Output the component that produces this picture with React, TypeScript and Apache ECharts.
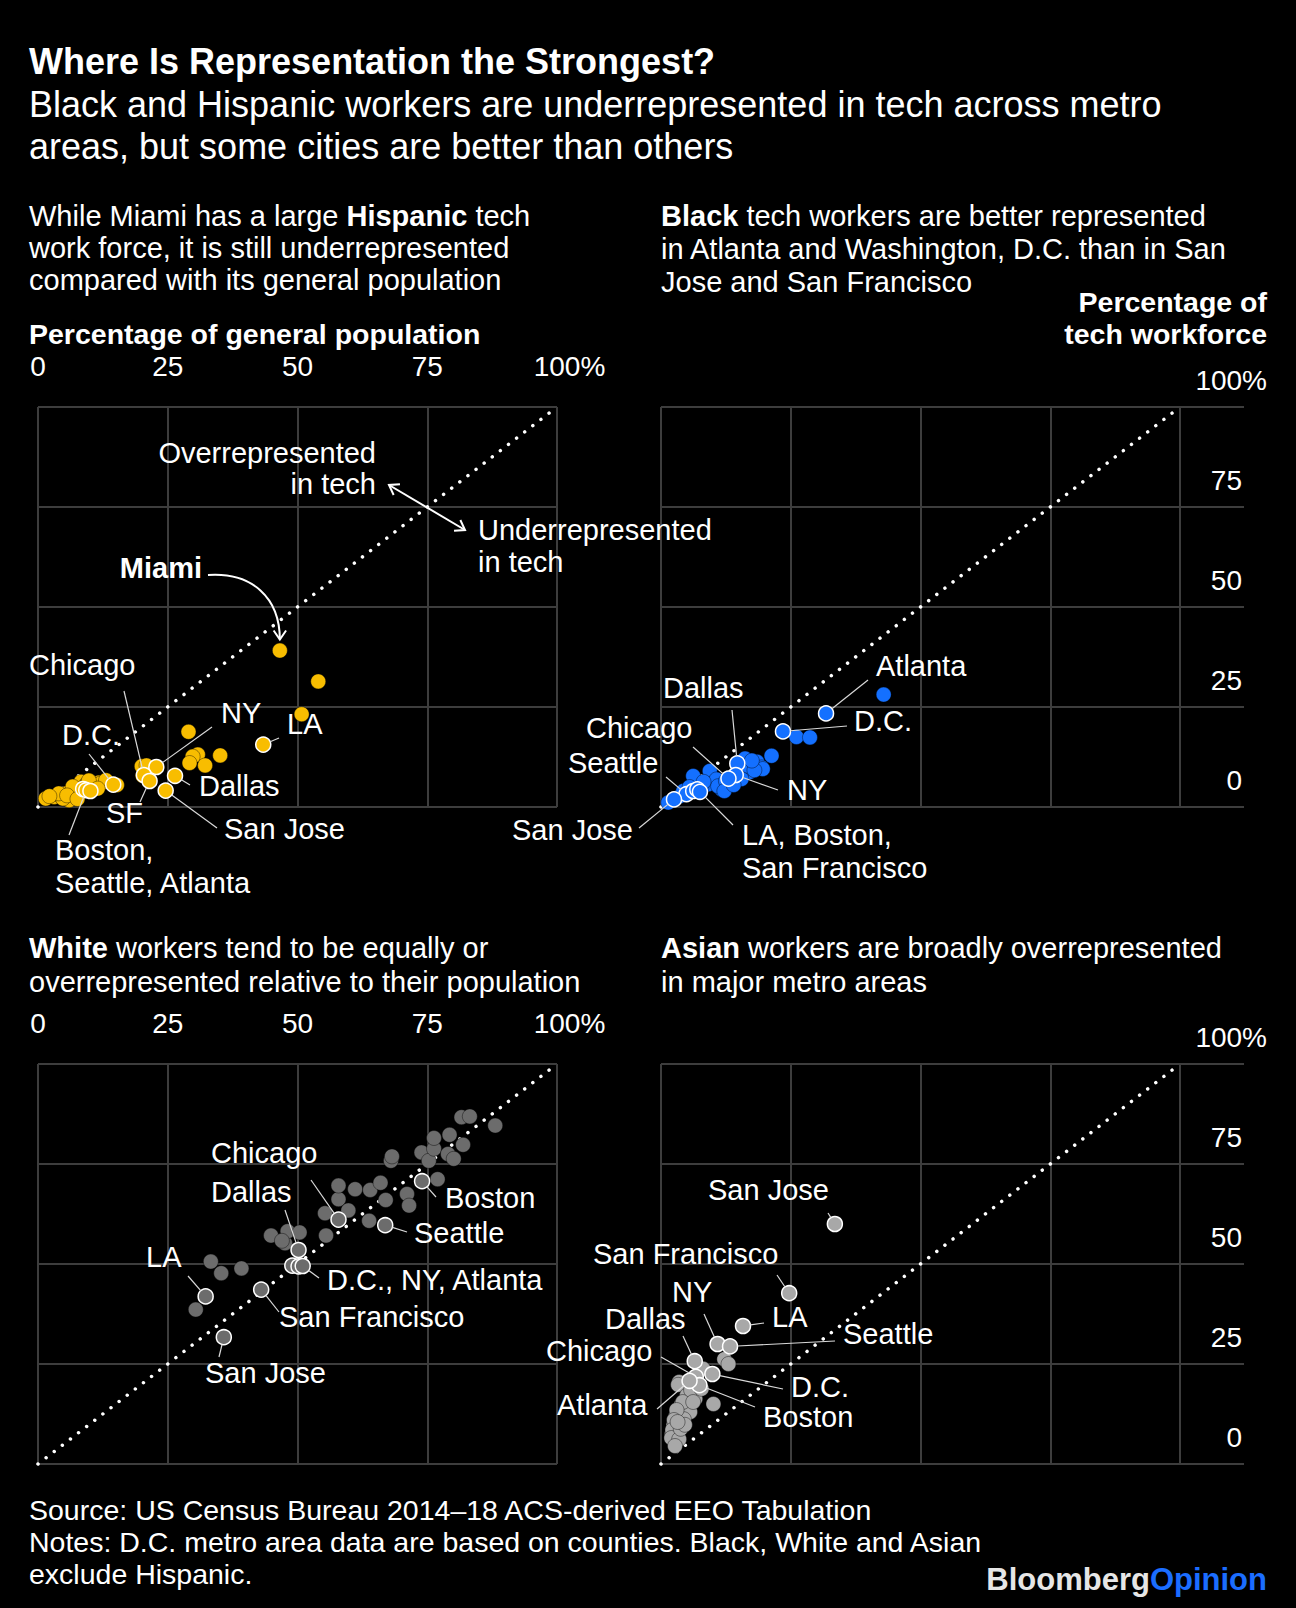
import React, { useEffect, useRef } from "react";
import * as echarts from "echarts";

const FONT = '"Liberation Sans", Arial, Helvetica, sans-serif';
const W = 1296;
const H = 1608;

const COLOR_HISPANIC = "#f8bd00";
const COLOR_BLACK = "#1470ff";
const COLOR_WHITE = "#6c6c6c";
const COLOR_ASIAN = "#a8a8a8";
const GRID_COLOR = "#3d3d3d";

// [city, % of general population, % of tech workforce]
const hispanicCities: [string, number, number][] = [
  ["LA", 43.4, 15.6],
  ["NY", 22.8, 10.0],
  ["Chicago", 20.4, 8.0],
  ["SF", 21.5, 6.5],
  ["Dallas", 26.4, 7.8],
  ["San Jose", 24.6, 4.1],
  ["D.C.", 14.5, 5.6],
  ["Atlanta", 8.7, 4.5],
  ["Boston", 9.3, 4.2],
  ["Seattle", 10.1, 4.0],
];
const hispanicMiami: [number, number] = [46.6, 39.1];
const hispanicOther: [number, number][] = [
  [54.0, 31.4], [50.8, 23.2], [29.0, 18.8], [30.8, 13.1], [29.8, 12.6], [29.2, 11.0],
  [32.2, 10.4], [35.1, 12.9], [20.0, 10.2], [20.2, 7.8], [20.9, 10.4],
  [11.8, 6.1], [11.3, 5.5], [12.8, 6.3], [10.5, 5.1], [8.3, 6.3], [8.9, 5.1], [15.2, 5.5],
  [1.5, 2.1], [3.1, 2.5], [4.1, 3.0], [5.4, 3.4], [6.0, 1.7], [7.0, 3.0], [4.8, 2.1],
  [7.3, 4.2], [7.9, 3.4], [6.7, 5.1], [9.5, 5.9], [10.9, 5.1], [12.1, 5.9], [13.1, 6.7],
  [4.0, 3.4], [2.2, 2.7], [5.6, 2.9], [7.6, 2.0], [9.8, 6.6], [11.5, 4.6],
];

const blackCities: [string, number, number][] = [
  ["Atlanta", 31.8, 23.4],
  ["D.C.", 23.5, 18.9],
  ["Dallas", 14.7, 10.9],
  ["NY", 14.4, 8.0],
  ["Chicago", 13.0, 7.1],
  ["Seattle", 4.9, 3.2],
  ["LA", 6.2, 4.0],
  ["Boston", 7.0, 4.4],
  ["San Francisco", 7.5, 3.8],
  ["San Jose", 2.5, 1.9],
];
const blackOther: [number, number][] = [
  [42.9, 28.1], [26.1, 17.5], [28.7, 17.4], [21.3, 12.8], [18.5, 11.3], [19.4, 9.9],
  [19.6, 9.5], [16.2, 12.1], [17.1, 8.75], [15.5, 8.6], [9.4, 9.0], [6.2, 7.75],
  [9.1, 5.7], [11.7, 4.4], [13.3, 6.1], [15.5, 7.0], [10.7, 6.9], [7.8, 4.85],
  [3.7, 2.75], [1.4, 1.1], [4.3, 4.0], [11.0, 5.2], [12.5, 6.5], [8.2, 6.3],
  [16.8, 10.3], [18.0, 9.2], [12.2, 4.0], [5.5, 5.0], [14.0, 5.5], [17.5, 11.6],
];

const whiteCities: [string, number, number][] = [
  ["San Jose", 35.8, 31.7],
  ["San Francisco", 43.0, 43.6],
  ["LA", 32.3, 41.9],
  ["D.C.", 49.0, 49.6],
  ["NY", 50.2, 49.4],
  ["Atlanta", 51.0, 49.5],
  ["Dallas", 50.2, 53.5],
  ["Chicago", 57.9, 61.1],
  ["Seattle", 66.9, 59.7],
  ["Boston", 74.0, 70.7],
];
const whiteOther: [number, number][] = [
  [30.4, 38.6], [33.3, 50.6], [35.3, 47.7], [39.2, 48.9], [47.6, 55.2], [48.1, 58.2],
  [50.4, 57.9], [44.9, 57.1], [55.5, 57.1], [55.3, 62.7], [57.9, 66.2], [57.9, 69.6],
  [59.8, 63.4], [61.1, 68.7], [64.0, 68.5], [66.0, 70.3], [67.0, 66.0], [63.8, 60.8],
  [71.1, 67.5], [71.5, 64.6], [77.0, 71.2], [68.0, 75.8], [68.2, 76.9], [73.9, 77.9],
  [75.3, 75.8], [76.3, 78.8], [79.0, 77.5], [80.1, 76.3], [81.9, 79.8], [76.3, 81.5],
  [79.3, 82.3], [81.6, 86.7], [83.2, 86.9], [88.1, 84.6], [47.0, 55.8],
];

const asianCities: [string, number, number][] = [
  ["San Jose", 33.5, 60.0],
  ["San Francisco", 24.7, 42.7],
  ["LA", 15.8, 34.5],
  ["NY", 10.9, 30.0],
  ["Seattle", 13.3, 29.4],
  ["Dallas", 6.5, 25.7],
  ["Chicago", 6.7, 21.8],
  ["D.C.", 9.9, 22.5],
  ["Boston", 7.4, 19.7],
  ["Atlanta", 5.5, 20.8],
];
const asianOther: [number, number][] = [
  [12.2, 26.2], [13.0, 25.0], [10.1, 15.0], [8.1, 23.8], [3.5, 20.5], [3.3, 19.8],
  [6.6, 16.3], [5.0, 17.1], [3.9, 14.8], [5.6, 13.0], [2.9, 12.1], [2.4, 9.6],
  [2.1, 7.5], [2.8, 5.4], [4.4, 11.2], [4.2, 15.5], [3.0, 13.5], [2.5, 11.0],
  [2.2, 8.5], [2.0, 6.5], [3.5, 6.2], [3.8, 8.8], [2.7, 4.5], [5.8, 18.5],
  [4.6, 9.8], [3.2, 10.5], [6.2, 15.5], [7.8, 18.8],
];

const AXIS_MIN = 0;
const AXIS_MAX = 100;
const AXIS_STEP = 25;
const diagonal: [number, number][] = [[0, 0], [100, 100]];

// Annotation text: [text, left x, center y]
const hispanicLabels: [string, number, number][] = [
  ["Chicago", 29, 665], ["D.C.", 62, 735], ["NY", 221, 713], ["LA", 287, 724],
  ["Dallas", 199, 786], ["SF", 106, 813], ["San Jose", 224, 829],
  ["Boston,", 55, 850], ["Seattle, Atlanta", 55, 883],
];
// Leaders: [city, label-side x, label-side y]
const hispanicLeaders: [string, number, number][] = [
  ["Chicago", 124, 691], ["D.C.", 89, 754], ["NY", 212, 727], ["LA", 279, 738],
  ["Dallas", 190, 785], ["SF", 140, 802], ["San Jose", 217, 828], ["Boston", 69, 835],
];
const blackLabels: [string, number, number][] = [
  ["Atlanta", 876, 666], ["D.C.", 854, 721], ["Dallas", 663, 688], ["Chicago", 586, 728],
  ["Seattle", 568, 763], ["NY", 787, 790], ["San Jose", 512, 830],
  ["LA, Boston,", 742, 835], ["San Francisco", 742, 868],
];
const blackLeaders: [string, number, number][] = [
  ["Atlanta", 868, 680], ["D.C.", 847, 726], ["Dallas", 732, 710], ["Chicago", 693, 747],
  ["Seattle", 666, 777], ["NY", 778, 790], ["San Jose", 639, 828], ["San Francisco", 733, 825],
];
const whiteLabels: [string, number, number][] = [
  ["Chicago", 211, 1153], ["Dallas", 211, 1192], ["Boston", 445, 1198], ["Seattle", 414, 1233],
  ["LA", 146, 1257], ["D.C., NY, Atlanta", 327, 1280], ["San Francisco", 279, 1317],
  ["San Jose", 205, 1373],
];
const whiteLeaders: [string, number, number][] = [
  ["Chicago", 311, 1180], ["Dallas", 285, 1210], ["Boston", 436, 1197], ["Seattle", 407, 1232],
  ["LA", 188, 1276], ["Atlanta", 319, 1278], ["San Francisco", 279, 1312], ["San Jose", 219, 1357],
];
const asianLabels: [string, number, number][] = [
  ["San Jose", 708, 1190], ["San Francisco", 593, 1254], ["NY", 672, 1292], ["LA", 772, 1317],
  ["Dallas", 605, 1319], ["Seattle", 843, 1334], ["Chicago", 546, 1351], ["D.C.", 791, 1387],
  ["Atlanta", 557, 1405], ["Boston", 763, 1417],
];
const asianLeaders: [string, number, number][] = [
  ["San Jose", 828, 1213], ["San Francisco", 777, 1275], ["NY", 704, 1314], ["LA", 764, 1323],
  ["Dallas", 683, 1336], ["Seattle", 835, 1341], ["Chicago", 661, 1357], ["D.C.", 783, 1389],
  ["Atlanta", 657, 1409], ["Boston", 755, 1407],
];

const panels = [
  { cities: hispanicCities, other: [...hispanicOther, hispanicMiami], color: COLOR_HISPANIC, xLabels: true, labels: hispanicLabels, leaders: hispanicLeaders },
  { cities: blackCities, other: blackOther, color: COLOR_BLACK, xLabels: false, labels: blackLabels, leaders: blackLeaders },
  { cities: whiteCities, other: whiteOther, color: COLOR_WHITE, xLabels: true, labels: whiteLabels, leaders: whiteLeaders },
  { cities: asianCities, other: asianOther, color: COLOR_ASIAN, xLabels: false, labels: asianLabels, leaders: asianLeaders },
];

const gridRects = [
  { left: 38, top: 407, width: 519, height: 400 },
  { left: 661, top: 407, width: 519, height: 400 },
  { left: 38, top: 1064, width: 519, height: 400 },
  { left: 661, top: 1064, width: 519, height: 400 },
  { left: 661, top: 407, width: 583, height: 400 },
  { left: 661, top: 1064, width: 583, height: 400 },
];

const gridStyle = { color: GRID_COLOR, width: 2 };
const SYMBOL = 15;

function buildOption(): any {
  const xAxis: any[] = [];
  const yAxis: any[] = [];
  const series: any[] = [];
  panels.forEach((p, g) => {
    xAxis.push({
      gridIndex: g, type: "value", min: AXIS_MIN, max: AXIS_MAX, interval: AXIS_STEP, position: "top",
      axisLine: { show: false },
      axisTick: { show: p.xLabels, length: 15, inside: false, lineStyle: gridStyle },
      axisLabel: p.xLabels
        ? {
            show: true, margin: 27, color: "#fff", fontSize: 28, fontFamily: FONT,
            formatter: (v: number) => (v === 100 ? "{p|100%}" : String(v)),
            rich: { p: { padding: [0, 0, 0, 25], fontSize: 28, fontFamily: FONT, color: "#fff" } },
          }
        : { show: false },
      splitLine: { show: true, lineStyle: gridStyle },
    });
    yAxis.push({
      gridIndex: g, type: "value", min: AXIS_MIN, max: AXIS_MAX, interval: AXIS_STEP,
      axisLine: { show: false }, axisTick: { show: false }, axisLabel: { show: false },
      splitLine: { show: g === 0 || g === 2, lineStyle: gridStyle },
    });
    series.push({
      type: "line", xAxisIndex: g, yAxisIndex: g, data: diagonal, symbol: "none", clip: false,
      silent: true, z: 2,
      lineStyle: { color: "#fff", width: 3.5, type: [0.001, 10.24], cap: "round" },
    });
    series.push({
      type: "scatter", xAxisIndex: g, yAxisIndex: g, silent: true, z: 3,
      data: p.other, symbolSize: SYMBOL,
      itemStyle: { color: p.color, borderColor: "rgba(0,0,0,0.4)", borderWidth: 1, opacity: 1 },
    });
    series.push({
      type: "scatter", xAxisIndex: g, yAxisIndex: g, silent: true, z: 4,
      data: p.cities.map((c) => ({ name: c[0], value: [c[1], c[2]] })), symbolSize: SYMBOL,
      itemStyle: { color: p.color, borderColor: "#fff", borderWidth: 1.5, opacity: 1 },
    });
  });
  [4, 5].forEach((g) => {
    xAxis.push({ gridIndex: g, type: "value", min: AXIS_MIN, max: AXIS_MAX, show: false });
    yAxis.push({
      gridIndex: g, type: "value", min: AXIS_MIN, max: AXIS_MAX, interval: AXIS_STEP,
      position: "right", offset: 23,
      axisLine: { show: false }, axisTick: { show: false },
      axisLabel: {
        show: true, inside: true, margin: 0, color: "#fff", fontSize: 28, fontFamily: FONT,
        verticalAlign: "bottom", lineHeight: 28, padding: [0, 0, 13, 0],
        formatter: (v: number) => (v === 100 ? "100%" : `{n|${v}}`),
        rich: { n: { padding: [0, 25, 0, 0], fontSize: 28, fontFamily: FONT, color: "#fff", lineHeight: 28 } },
      },
      splitLine: { show: true, lineStyle: gridStyle },
    });
  });
  return {
    backgroundColor: "#000",
    animation: false,
    grid: gridRects.map((r) => ({ ...r, containLabel: false })),
    xAxis,
    yAxis,
    series,
  };
}

function buildGraphics(chart: any): any[] {
  const els: any[] = [];
  const font = (size: number, bold = false) => `${bold ? "bold " : ""}${size}px ${FONT}`;
  const text = (t: string, x: number, y: number, size = 29, opts: any = {}) => {
    const style: any = {
      text: t, fill: opts.fill || "#fff", font: font(size, !!opts.bold),
      textAlign: opts.align || "left", textVerticalAlign: "middle",
    };
    if (opts.rich) style.rich = opts.rich;
    els.push({ type: "text", x, y, z: 50, silent: true, style });
  };
  const boldRich = { b: { font: font(29, true), fill: "#fff" } };

  // Header
  text("Where Is Representation the Strongest?", 29, 61, 36, { bold: true });
  text("Black and Hispanic workers are underrepresented in tech across metro", 29, 104, 36);
  text("areas, but some cities are better than others", 29, 146, 36);

  // Panel descriptions
  text("While Miami has a large {b|Hispanic} tech", 29, 216, 29, { rich: boldRich });
  text("work force, it is still underrepresented", 29, 248, 29);
  text("compared with its general population", 29, 280, 29);
  text("Percentage of general population", 29, 334, 28.5, { bold: true });

  text("{b|Black} tech workers are better represented", 661, 216, 29, { rich: boldRich });
  text("in Atlanta and Washington, D.C. than in San", 661, 249, 29);
  text("Jose and San Francisco", 661, 282, 29);
  text("Percentage of", 1267, 302, 28.5, { bold: true, align: "right" });
  text("tech workforce", 1267, 334, 28.5, { bold: true, align: "right" });

  text("{b|White} workers tend to be equally or", 29, 948, 29, { rich: boldRich });
  text("overrepresented relative to their population", 29, 982, 29);
  text("{b|Asian} workers are broadly overrepresented", 661, 948, 29, { rich: boldRich });
  text("in major metro areas", 661, 982, 29);

  // Footer
  text("Source: US Census Bureau 2014\u201318 ACS-derived EEO Tabulation", 29, 1510, 28.5);
  text("Notes: D.C. metro area data are based on counties. Black, White and Asian", 29, 1542, 28.5);
  text("exclude Hispanic.", 29, 1574, 28.5);
  text("{a|Bloomberg}{b|Opinion}", 1267, 1579, 31, {
    align: "right",
    rich: { a: { font: font(31, true), fill: "#e6e6e6" }, b: { font: font(31, true), fill: "#1b6dff" } },
  });

  const lineEl = (x1: number, y1: number, x2: number, y2: number, stroke = "#fff", w = 2) =>
    els.push({ type: "line", z: 50, silent: true, shape: { x1, y1, x2, y2 }, style: { stroke, lineWidth: w } });
  const arrowHead = (tx: number, ty: number, ang: number, len = 11, spread = 0.6) =>
    els.push({
      type: "polyline", z: 50, silent: true,
      shape: {
        points: [
          [tx - len * Math.cos(ang - spread), ty - len * Math.sin(ang - spread)],
          [tx, ty],
          [tx - len * Math.cos(ang + spread), ty - len * Math.sin(ang + spread)],
        ],
      },
      style: { stroke: "#fff", lineWidth: 2, fill: null },
    });

  // Over/under annotation
  text("Overrepresented", 376, 453, 29, { align: "right" });
  text("in tech", 376, 484, 29, { align: "right" });
  text("Underrepresented", 478, 530, 29);
  text("in tech", 478, 562, 29);
  const a1 = [389, 485];
  const a2 = [465, 530];
  const ang = Math.atan2(a2[1] - a1[1], a2[0] - a1[0]);
  lineEl(a1[0], a1[1], a2[0], a2[1]);
  arrowHead(a2[0], a2[1], ang);
  arrowHead(a1[0], a1[1], ang + Math.PI);

  // Miami annotation
  text("Miami", 202, 568, 29, { bold: true, align: "right" });
  const mp = chart.convertToPixel({ xAxisIndex: 0, yAxisIndex: 0 }, hispanicMiami);
  const mEnd = [mp[0], mp[1] - 11];
  els.push({
    type: "bezierCurve", z: 50, silent: true,
    shape: { x1: 208, y1: 575, cpx1: 252, cpy1: 572, cpx2: mEnd[0], cpy2: mEnd[1] - 42, x2: mEnd[0], y2: mEnd[1] },
    style: { stroke: "#fff", lineWidth: 2, fill: null },
  });
  arrowHead(mEnd[0], mEnd[1], Math.PI / 2);

  // City labels + leader lines
  panels.forEach((p, g) => {
    p.labels.forEach(([t, x, y]) => text(t, x, y, 29));
    p.leaders.forEach(([name, fx, fy]) => {
      const c = p.cities.find((d) => d[0] === name);
      if (!c) return;
      const pt = chart.convertToPixel({ xAxisIndex: g, yAxisIndex: g }, [c[1], c[2]]);
      const dx = fx - pt[0];
      const dy = fy - pt[1];
      const len = Math.hypot(dx, dy) || 1;
      const r = SYMBOL / 2;
      lineEl(fx, fy, pt[0] + (dx / len) * r, pt[1] + (dy / len) * r, "#d9d9d9", 1.2);
    });
  });

  return els;
}

export default function App() {
  const ref = useRef<HTMLDivElement>(null);
  useEffect(() => {
    document.body.style.margin = "0";
    document.body.style.background = "#000";
    const chart = echarts.init(ref.current as HTMLDivElement, null, { renderer: "svg", width: W, height: H });
    chart.setOption(buildOption());
    chart.setOption({ graphic: { elements: buildGraphics(chart) } });
    return () => chart.dispose();
  }, []);
  return <div ref={ref} style={{ width: W, height: H, background: "#000" }} />;
}
